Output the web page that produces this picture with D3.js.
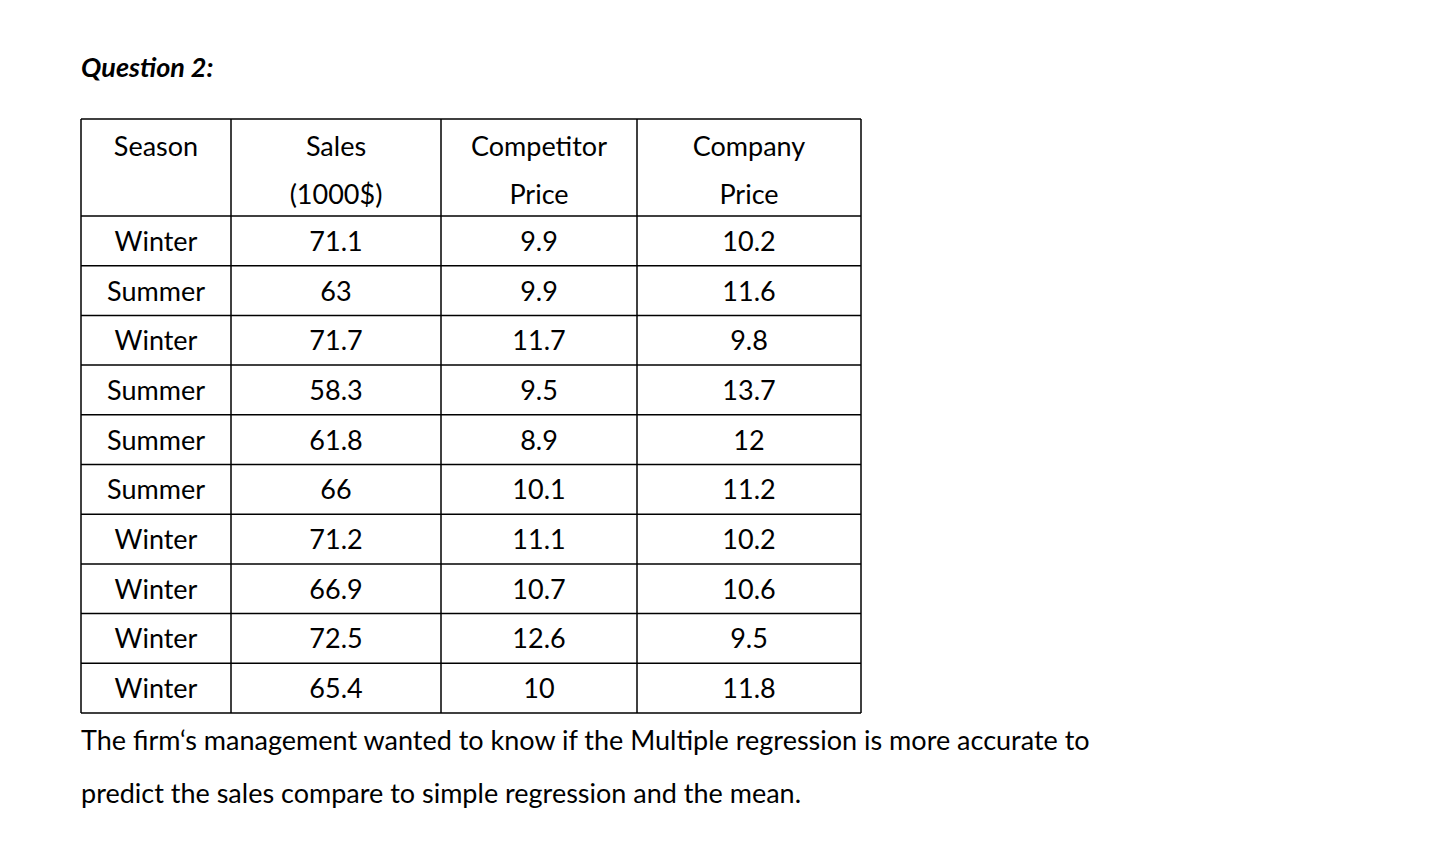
<!DOCTYPE html>
<html><head><meta charset="utf-8">
<script src="https://cdn.jsdelivr.net/npm/d3@7"></script>
<style>body{margin:0;background:#fff}svg{display:block}text{font-family:Lato,"Open Sans",sans-serif;fill:#000}</style>
</head><body><svg id="c" width="1440" height="846"></svg>
<script>
const headers = [["Season"],["Sales","(1000$)"],["Competitor","Price"],["Company","Price"]];
const seasons = ["Winter","Summer","Winter","Summer","Summer","Summer","Winter","Winter","Winter","Winter"];
const sales = ["71.1","63","71.7","58.3","61.8","66","71.2","66.9","72.5","65.4"];
const competitor = ["9.9","9.9","11.7","9.5","8.9","10.1","11.1","10.7","12.6","10"];
const company = ["10.2","11.6","9.8","13.7","12","11.2","10.2","10.6","9.5","11.8"];

(function(){
const svg = d3.select("#c");
const colEdges = [81,231,441,637,861];
const tableTop = 119, headH = 97, rowH = 49.7;
const x = d3.scaleOrdinal().domain([0,1,2,3]).range([0,1,2,3].map(i=>(colEdges[i]+colEdges[i+1])/2));
const y = d3.scaleLinear().domain([0,10]).range([tableTop+headH, tableTop+headH+10*rowH]);

svg.append("text").attr("x",81).attr("y",77).style("font-size","27px").style("font-weight","bold").style("font-style","italic").text("Question 2:");

const g = svg.append("g").attr("stroke","#000").attr("stroke-width",1.5);
g.append("line").attr("x1",colEdges[0]).attr("x2",colEdges[4]).attr("y1",tableTop).attr("y2",tableTop);
d3.range(11).forEach(i=>g.append("line").attr("x1",colEdges[0]).attr("x2",colEdges[4]).attr("y1",y(i)).attr("y2",y(i)));
colEdges.forEach(cx=>g.append("line").attr("x1",cx).attr("x2",cx).attr("y1",tableTop).attr("y2",y(10)));

headers.forEach((h,i)=>h.forEach((t,j)=>svg.append("text").attr("x",x(i)).attr("y",tableTop+37+j*48).attr("text-anchor","middle").style("font-size","27px").text(t)));

const cols=[seasons,sales,competitor,company];
cols.forEach((arr,i)=>arr.forEach((t,r)=>svg.append("text").attr("x",x(i)).attr("y",y(r)+rowH/2+10).attr("text-anchor","middle").style("font-size","27px").text(t)));

svg.append("text").attr("x",81).attr("y",750).style("font-size","27px").text("The firm‘s management wanted to know if the Multiple regression is more accurate to");
svg.append("text").attr("x",81).attr("y",803).style("font-size","27px").text("predict the sales compare to simple regression and the mean.");
})();
</script></body></html>
